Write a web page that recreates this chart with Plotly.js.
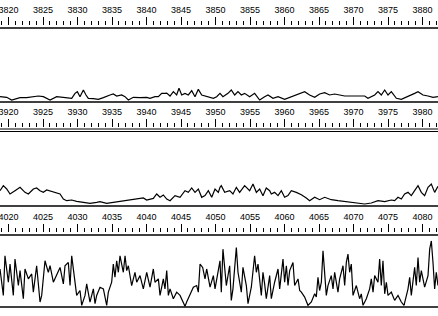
<!DOCTYPE html>
<html>
<head>
<meta charset="utf-8">
<script src="https://cdn.plot.ly/plotly-3.0.1.min.js"></script>
<style>html,body{margin:0;padding:0;background:#fff;}#chart{width:438px;height:316px;}</style>
</head>
<body>
<div id="chart"></div>
<script>
// Panel 1: 3820-3880 Å
const p1Wave = [3818.77,3819.74,3820.46,3821.67,3822.63,3823.60,3824.33,3825.05,3826.02,3826.98,3827.71,3828.43,3829.16,3829.64,3829.98,3830.36,3830.85,3831.23,3831.57,3832.30,3833.02,3833.75,3834.23,3834.71,3835.19,3835.68,3836.40,3836.89,3837.37,3838.09,3839.06,3840.03,3840.51,3841.23,3841.72,3842.20,3842.68,3842.93,3843.41,3843.89,3844.37,3844.71,3845.10,3845.58,3846.06,3846.55,3847.03,3847.51,3848.00,3848.72,3849.69,3850.17,3850.65,3851.08,3851.81,3852.29,3852.78,3853.26,3853.74,3854.22,3854.95,3855.67,3856.40,3857.12,3857.61,3858.33,3859.06,3860.02,3860.75,3861.71,3862.44,3862.92,3863.64,3864.37,3865.09,3865.82,3866.54,3867.27,3867.99,3868.72,3869.68,3870.65,3871.62,3872.10,3873.07,3873.55,3874.03,3874.52,3875.00,3875.48,3876.21,3876.93,3877.90,3878.86,3879.35,3880.07,3880.80,3881.52,3882.24];
const p1Flux = [7.2,6.3,2.7,5.9,5.9,7.0,8.1,7.2,2.7,7.2,6.3,5.9,5.0,11.7,14.0,7.2,16.2,9.5,5.0,4.5,3.6,5.9,8.1,9.5,10.8,8.1,9.5,7.2,2.7,6.3,5.9,6.3,5.0,7.2,7.2,11.7,11.7,12.0,8.1,14.0,9.5,18.5,9.5,11.7,9.5,15.3,7.2,17.1,9.5,7.2,5.0,7.2,11.7,7.2,11.7,16.2,9.5,14.0,9.5,11.7,7.2,11.7,2.7,7.2,9.5,5.0,7.2,3.6,6.3,9.5,11.7,14.0,9.5,6.3,10.8,12.6,9.5,10.8,9.5,8.1,8.1,8.1,8.1,5.0,9.5,14.0,9.5,16.2,9.5,14.0,5.0,3.6,7.2,11.7,14.0,9.5,8.1,6.3,7.2];

// Panel 2: 3920-3980 Å
const p2Wave = [3918.77,3919.25,3919.74,3920.22,3920.94,3921.67,3922.39,3922.88,3923.60,3924.08,3924.57,3925.05,3925.53,3926.50,3927.47,3927.95,3928.43,3929.16,3929.88,3930.85,3931.81,3932.78,3933.26,3934.23,3935.19,3936.16,3937.13,3938.09,3939.06,3939.54,3940.03,3940.99,3941.48,3941.96,3942.44,3942.93,3943.41,3944.13,3944.86,3945.58,3946.06,3946.55,3947.03,3947.51,3948.00,3948.48,3948.96,3949.45,3949.93,3950.41,3950.65,3950.84,3951.33,3952.05,3952.53,3953.02,3953.50,3954.22,3954.95,3955.43,3955.92,3956.40,3956.88,3957.36,3957.85,3958.09,3958.57,3959.06,3959.54,3960.02,3960.50,3960.99,3961.71,3962.44,3963.16,3963.64,3964.37,3965.09,3965.82,3966.78,3967.75,3968.72,3969.68,3970.65,3971.62,3972.58,3973.55,3974.52,3975.48,3975.96,3976.45,3976.93,3977.41,3977.90,3978.38,3978.86,3979.35,3979.83,3980.31,3980.80,3981.28,3981.76,3982.24];
const p2Flux = [20.4,27.1,22.7,16.0,20.4,24.9,18.2,16.0,22.7,24.0,20.4,18.2,21.3,18.2,16.0,9.3,7.1,8.0,6.2,4.9,3.6,4.9,5.8,3.6,4.9,6.2,7.1,8.4,9.3,10.7,8.0,10.2,16.0,11.6,14.7,9.3,7.1,13.8,11.6,20.4,18.2,24.0,18.2,22.7,11.6,13.8,20.4,11.6,22.7,18.2,24.9,27.1,18.2,20.4,16.0,24.9,18.2,27.1,20.4,29.3,18.2,22.7,13.8,24.0,20.4,16.0,18.2,13.8,20.4,11.6,13.8,20.4,18.2,15.1,10.7,7.1,11.6,8.4,11.6,8.4,7.1,5.8,4.9,3.6,2.7,4.0,7.1,5.8,8.0,7.1,11.6,9.3,16.0,18.2,13.8,20.4,27.1,18.2,13.8,24.9,29.3,18.2,26.2];

// Panel 3: 4020-4080 Å
const p3Wave = [4018.77,4019.25,4019.49,4019.98,4020.22,4020.70,4020.94,4021.43,4021.67,4022.15,4022.39,4022.88,4023.36,4023.60,4024.08,4024.57,4024.81,4025.29,4025.77,4026.02,4026.50,4026.98,4027.47,4027.95,4028.19,4028.67,4028.92,4029.16,4029.64,4029.88,4030.36,4030.61,4031.09,4031.33,4031.81,4032.30,4032.54,4032.78,4033.26,4033.75,4034.23,4034.47,4034.95,4035.19,4035.43,4035.68,4035.92,4036.16,4036.64,4036.89,4037.13,4037.37,4037.85,4038.33,4038.58,4039.06,4039.54,4040.03,4040.51,4040.99,4041.23,4041.72,4041.96,4042.44,4042.68,4042.93,4043.17,4043.41,4043.89,4044.37,4044.86,4045.34,4045.58,4045.82,4046.31,4046.79,4047.27,4047.51,4047.76,4048.14,4048.48,4048.72,4049.21,4049.69,4049.93,4050.41,4050.65,4050.84,4051.08,4051.57,4052.05,4052.29,4052.53,4053.02,4053.26,4053.74,4053.98,4054.47,4054.71,4055.19,4055.67,4055.92,4056.16,4056.64,4056.88,4057.12,4057.36,4057.61,4057.85,4058.09,4058.33,4058.57,4059.06,4059.30,4059.78,4060.02,4060.27,4060.51,4060.75,4061.23,4061.47,4061.96,4062.20,4062.44,4062.92,4063.40,4063.89,4064.37,4064.61,4064.85,4065.09,4065.34,4065.58,4065.82,4066.06,4066.30,4066.78,4067.03,4067.27,4067.75,4067.99,4068.48,4068.72,4068.96,4069.20,4069.44,4069.68,4069.93,4070.41,4070.89,4071.13,4071.38,4071.86,4072.34,4072.58,4072.83,4073.07,4073.55,4073.79,4074.03,4074.27,4074.52,4074.76,4075.00,4075.48,4075.96,4076.45,4076.93,4077.32,4077.90,4078.14,4078.38,4078.86,4079.10,4079.35,4079.59,4079.83,4080.31,4080.80,4081.04,4081.28,4081.52,4081.76,4082.00,4082.24];
const p3Flux = [52.8,16.1,71.1,34.4,59.6,16.1,66.5,29.8,50.5,11.5,52.8,39.0,45.9,20.6,57.3,6.9,16.1,64.2,48.2,57.3,34.4,43.6,55.0,32.1,57.3,61.9,29.8,71.1,29.8,16.1,22.9,2.3,16.1,32.1,6.9,25.2,4.6,16.1,27.5,25.2,2.3,20.6,34.4,59.6,41.3,64.2,48.2,71.1,48.2,71.1,50.5,57.3,29.8,48.2,34.4,43.6,25.2,48.2,27.5,52.8,34.4,39.0,16.1,39.0,25.2,50.5,16.1,25.2,11.5,20.6,16.1,6.9,0.9,6.9,18.3,27.5,29.8,20.6,59.6,55.0,39.0,52.8,27.5,43.6,25.2,48.2,64.2,20.6,80.3,29.8,57.3,9.2,25.2,82.6,48.2,20.6,55.0,29.8,4.6,27.5,71.1,48.2,59.6,16.1,48.2,32.1,11.5,27.5,43.6,11.5,25.2,34.4,52.8,25.2,66.5,34.4,57.3,29.8,50.5,61.9,29.8,39.0,22.9,20.6,13.8,2.3,6.9,18.3,13.8,41.3,22.9,34.4,78.0,48.2,16.1,29.8,43.6,25.2,48.2,20.6,39.0,57.3,29.8,61.9,73.4,48.2,59.6,16.1,29.8,11.5,18.3,2.3,11.5,25.2,39.0,20.6,43.6,34.4,66.5,29.8,64.2,18.3,34.4,16.1,20.6,9.2,16.1,6.9,2.3,25.2,41.3,16.1,55.0,29.8,68.8,34.4,50.5,27.5,43.6,80.3,91.7,61.9,25.2,48.2,29.8];

const panelStarts = [3820, 3920, 4020];

const H = 316;
const py = v => 1 - v / H;

const line = {color: '#000', width: 1.2};
const data = [
  {x: p1Wave, y: p1Flux, xaxis: 'x', yaxis: 'y', mode: 'lines', line: line, hoverinfo: 'skip'},
  {x: p2Wave, y: p2Flux, xaxis: 'x2', yaxis: 'y2', mode: 'lines', line: line, hoverinfo: 'skip'},
  {x: p3Wave, y: p3Flux, xaxis: 'x3', yaxis: 'y3', mode: 'lines', line: line, hoverinfo: 'skip'}
];

function xa(start, pos) {
  return {
    domain: [0, 1],
    range: [start - 1.232, start + 62.246],
    anchor: 'free', position: pos, side: 'top',
    ticks: 'outside', ticklen: 8, tickwidth: 1, tickcolor: '#000',
    tick0: start, dtick: 5,
    showline: false, showgrid: false, zeroline: false,
    ticklabeloverflow: 'allow',
    tickfont: {family: 'Liberation Sans', size: 9, color: '#000'},
    minor: {tick0: start, dtick: 1, ticks: 'outside', ticklen: 4, tickwidth: 1, tickcolor: '#000', showgrid: false},
    fixedrange: true
  };
}
function ya(top, bottom) {
  return {domain: [py(bottom), py(top)], range: [0, 100], visible: false, fixedrange: true};
}

function hline(yPix, w) {
  return {type: 'line', xref: 'paper', yref: 'paper', x0: 0, x1: 1, y0: py(yPix), y1: py(yPix), line: {color: '#000', width: w}};
}

const layout = {
  width: 438, height: 316,
  margin: {l: 0, r: 0, t: 0, b: 0, pad: 0},
  paper_bgcolor: '#fff', plot_bgcolor: 'rgba(0,0,0,0)',
  showlegend: false,
  xaxis: xa(panelStarts[0], py(25)),
  xaxis2: xa(panelStarts[1], py(127)),
  xaxis3: xa(panelStarts[2], py(232)),
  yaxis: ya(28, 102),
  yaxis2: ya(131, 206),
  yaxis3: ya(235, 307),
  shapes: [
    hline(28, 1.5), hline(102, 1.5),
    hline(129, 1), hline(131.5, 1), hline(206, 1.5),
    hline(235, 1.5), hline(307, 1.5)
  ]
};

Plotly.newPlot('chart', data, layout, {staticPlot: true, displayModeBar: false});
</script>
</body>
</html>
